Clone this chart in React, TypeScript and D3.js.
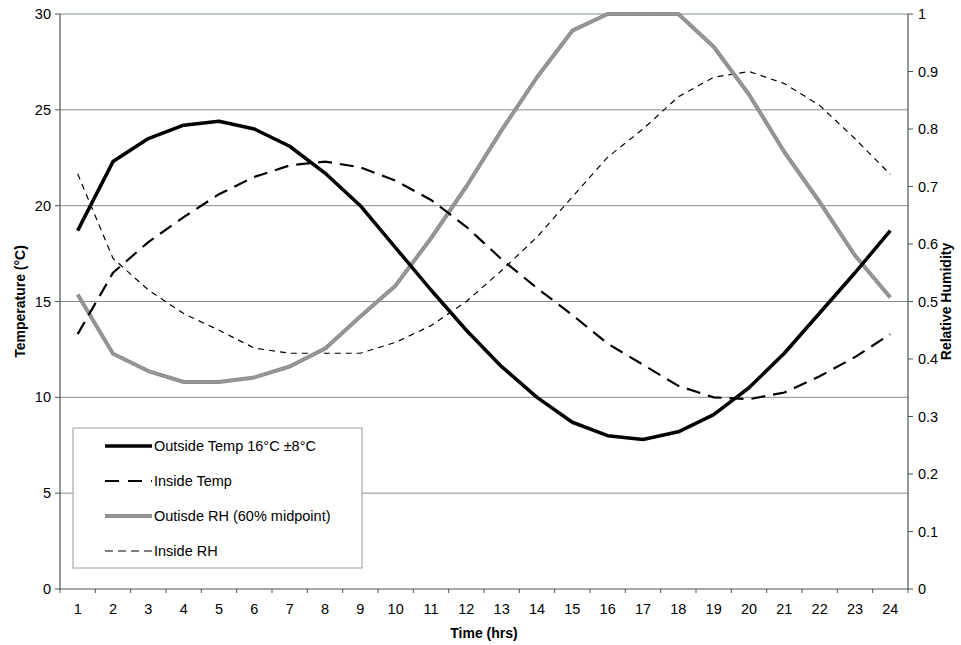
import React from "react";
import * as d3 from "d3";

const hours = d3.range(1, 25).map(String);
const outsideTemp = [18.7, 22.3, 23.5, 24.2, 24.4, 24.0, 23.1, 21.7, 20.0, 17.8, 15.6, 13.5, 11.6, 10.0, 8.7, 8.0, 7.8, 8.2, 9.1, 10.5, 12.3, 14.4, 16.5, 18.7];
const insideTemp = [13.3, 16.5, 18.1, 19.4, 20.6, 21.5, 22.1, 22.3, 22.0, 21.3, 20.3, 18.9, 17.2, 15.7, 14.3, 12.8, 11.7, 10.6, 10.0, 9.9, 10.25, 11.1, 12.1, 13.3];
const outsideRH = [0.512, 0.409, 0.379, 0.36, 0.36, 0.368, 0.387, 0.418, 0.474, 0.528, 0.61, 0.70, 0.798, 0.89, 0.971, 1.0, 1.0, 1.0, 0.943, 0.86, 0.76, 0.673, 0.58, 0.507];
const insideRH = [0.722, 0.575, 0.52, 0.479, 0.45, 0.419, 0.41, 0.41, 0.41, 0.429, 0.458, 0.50, 0.554, 0.612, 0.682, 0.751, 0.80, 0.856, 0.89, 0.90, 0.879, 0.841, 0.783, 0.721];
const tempTicks = [0, 5, 10, 15, 20, 25, 30];
const rhTicks = [0, 0.1, 0.2, 0.3, 0.4, 0.5, 0.6, 0.7, 0.8, 0.9, 1];
const legendLabels = ["Outside Temp 16°C ±8°C", "Inside Temp", "Outisde RH (60% midpoint)", "Inside RH"];

const W = 961, H = 645;
const L = 60, R = 908, T = 14, B = 589;
const font = "'Liberation Sans', Arial, sans-serif";
const FS = 14.5;

export default function App() {
  const x = d3.scaleBand<string>().domain(hours).range([L, R]);
  const cx = (i: number) => (x(hours[i]) as number) + x.bandwidth() / 2;
  const yT = d3.scaleLinear().domain([0, 30]).range([B, T]);
  const yRH = d3.scaleLinear().domain([0, 1]).range([B, T]);
  const lineT = d3.line<number>().x((_, i) => cx(i)).y((d) => yT(d));
  const lineRH = d3.line<number>().x((_, i) => cx(i)).y((d) => yRH(d));

  const styles = [
    { stroke: "#000", width: 3.5, dash: "none" },
    { stroke: "#000", width: 2.2, dash: "14,8" },
    { stroke: "#8e8e8e", width: 4, dash: "none" },
    { stroke: "#000", width: 1.2, dash: "6,5" },
  ];

  const boundaries = d3.range(0, 25).map((i) => L + i * x.step());

  return (
    <div style={{ position: "absolute", left: 0, top: 0 }}>
      <svg width={W} height={H} style={{ display: "block", fontFamily: font }}>
        <rect x={0} y={0} width={W} height={H} fill="#fff" />
        {/* gridlines */}
        {tempTicks.filter((t) => t > 0).map((t) => (
          <line key={t} x1={L} x2={R} y1={yT(t)} y2={yT(t)} stroke={t === 30 ? "#7f9090" : "#8c8c8c"} strokeWidth={1} />
        ))}
        {/* axes */}
        <line x1={L} x2={L} y1={T} y2={B} stroke="#4a5555" strokeWidth={1.2} />
        <line x1={R} x2={R} y1={T} y2={B} stroke="#4a5555" strokeWidth={1.2} />
        <line x1={L} x2={R} y1={B} y2={B} stroke="#4a5555" strokeWidth={1.2} />
        {tempTicks.map((t) => (
          <g key={t}>
            <line x1={L - 5} x2={L} y1={yT(t)} y2={yT(t)} stroke="#4a5555" />
            <text x={L - 9} y={yT(t)} dy="0.35em" textAnchor="end" fontSize={FS} fill="#000">{t}</text>
          </g>
        ))}
        {rhTicks.map((t) => (
          <g key={t}>
            <line x1={R} x2={R + 5} y1={yRH(t)} y2={yRH(t)} stroke="#4a5555" />
            <text x={R + 10} y={yRH(t)} dy="0.35em" textAnchor="start" fontSize={FS} fill="#000">{d3.format("~g")(t)}</text>
          </g>
        ))}
        {boundaries.map((bx, i) => (
          <line key={i} x1={bx} x2={bx} y1={B} y2={B + 4} stroke="#4a5555" />
        ))}
        {hours.map((h, i) => (
          <text key={h} x={cx(i)} y={B + 25} textAnchor="middle" fontSize={FS} fill="#000">{h}</text>
        ))}
        {/* titles */}
        <text x={L + (R - L) / 2} y={638} textAnchor="middle" fontSize={14} fontWeight="bold">Time (hrs)</text>
        <text transform={`translate(25,${(T + B) / 2}) rotate(-90)`} textAnchor="middle" fontSize={14} fontWeight="bold">Temperature (°C)</text>
        <text transform={`translate(951,${(T + B) / 2}) rotate(-90)`} textAnchor="middle" fontSize={14} fontWeight="bold">Relative Humidity</text>
        {/* series */}
        <path d={lineRH(insideRH) as string} fill="none" stroke={styles[3].stroke} strokeWidth={styles[3].width} strokeDasharray={styles[3].dash} />
        <path d={lineRH(outsideRH) as string} fill="none" stroke={styles[2].stroke} strokeWidth={styles[2].width} strokeLinejoin="round" />
        <path d={lineRH(outsideRH) as string} fill="none" stroke="#a8a8a8" strokeWidth={1.2} strokeDasharray="1.5,1.5" />
        <path d={lineT(insideTemp) as string} fill="none" stroke={styles[1].stroke} strokeWidth={styles[1].width} strokeDasharray={styles[1].dash} />
        <path d={lineT(outsideTemp) as string} fill="none" stroke={styles[0].stroke} strokeWidth={styles[0].width} strokeLinejoin="round" />
        {/* legend */}
        <rect x={73} y={428} width={289} height={140} fill="#fff" stroke="#999" strokeWidth={1} />
        {legendLabels.map((lab, i) => {
          const ly = 446 + i * 35;
          const s = styles[i];
          return (
            <g key={lab}>
              <line x1={105} x2={152} y1={ly} y2={ly} stroke={s.stroke} strokeWidth={s.width} strokeDasharray={i === 1 ? "14,9" : i === 3 ? "8,5" : "none"} />
              {i === 2 && <line x1={105} x2={152} y1={ly} y2={ly} stroke="#a8a8a8" strokeWidth={1.2} strokeDasharray="1.5,1.5" />}
              <text x={154} y={ly} dy="0.35em" fontSize={FS} fill="#000">{lab}</text>
            </g>
          );
        })}
      </svg>
    </div>
  );
}
